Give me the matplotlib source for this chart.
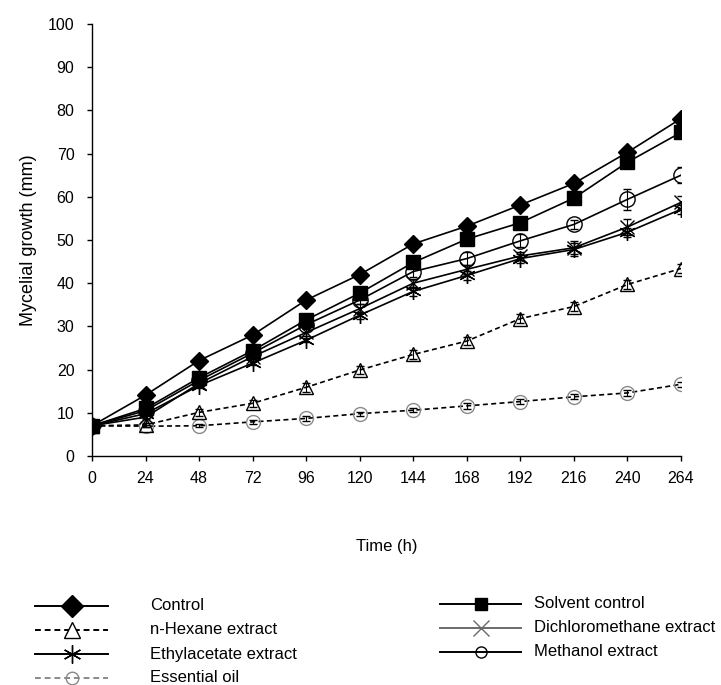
import matplotlib

matplotlib.use("Agg")
import matplotlib.pyplot as plt
from matplotlib.lines import Line2D

plt.rcParams["font.family"] = ["Liberation Sans", "DejaVu Sans"]

# Time points (h)
hours = [0, 24, 48, 72, 96, 120, 144, 168, 192, 216, 240, 264]

# Mean mycelial growth (mm)
control = [7, 14.1, 22.1, 28.0, 36.1, 42.0, 49.1, 53.2, 58.1, 63.1, 70.3, 78.1]
solvent = [7, 11.0, 18.1, 24.4, 31.5, 37.7, 44.8, 50.2, 54.0, 59.7, 68.0, 74.9]
hexane = [7, 7.2, 10.1, 12.2, 15.9, 19.9, 23.5, 26.6, 31.8, 34.6, 39.7, 43.4]
dcm = [7, 9.0, 16.8, 23.0, 28.6, 34.1, 40.0, 43.2, 46.3, 48.2, 53.0, 58.7]
ethyl = [7, 9.8, 16.3, 21.5, 26.8, 32.6, 38.1, 41.8, 45.7, 47.8, 51.8, 57.1]
methanol = [7, 10.5, 17.5, 23.8, 30.4, 36.1, 42.7, 45.7, 49.8, 53.6, 59.4, 65.0]
oil = [7, 6.9, 7.0, 7.9, 8.7, 9.8, 10.6, 11.6, 12.6, 13.7, 14.6, 16.6]

# Standard errors (estimated from the bars)
control_err = [0, 0.3, 0.3, 0.3, 0.3, 0.3, 0.4, 0.4, 0.4, 0.4, 0.5, 0.5]
solvent_err = [0, 0.4, 0.4, 0.5, 0.5, 0.5, 0.6, 0.6, 0.6, 0.6, 0.8, 0.8]
hexane_err = [0, 0.5, 0.8, 0.8, 1.0, 1.0, 1.0, 1.0, 1.0, 1.0, 1.0, 1.0]
dcm_err = [0, 0.5, 0.5, 0.5, 0.8, 1.0, 1.0, 1.0, 1.0, 1.5, 1.8, 1.5]
ethyl_err = [0, 0.5, 0.5, 0.5, 0.5, 0.8, 1.0, 1.0, 1.0, 1.5, 1.0, 1.0]
methanol_err = [0, 0.5, 0.5, 0.5, 0.8, 1.0, 1.2, 1.5, 1.5, 1.0, 2.5, 1.8]
oil_err = [0, 0.3, 0.3, 0.5, 0.5, 0.5, 0.5, 0.7, 0.6, 0.6, 0.6, 0.6]

y_ticks = list(range(0, 101, 10))

DASH = (0, (3, 2))
GREY = "#8a8a8a"

# name, values, errors, line style kwargs (main plot), legend colour
SERIES = [
    ("Essential oil", oil, oil_err,
     dict(ls=DASH, color="black", marker="o", ms=10, mfc="none", mec=GREY, mew=1.0), GREY),
    ("n-Hexane extract", hexane, hexane_err,
     dict(ls=DASH, color="black", marker="^", ms=10, mfc="none", mec="black", mew=1.0), "black"),
    ("Ethylacetate extract", ethyl, ethyl_err,
     dict(ls="-", color="black", marker=(6, 2, 0), ms=12, mec="black", mew=1.0), "black"),
    ("Dichloromethane extract", dcm, dcm_err,
     dict(ls="-", color="black", marker="x", ms=10, mec="black", mew=1.0), "#6a6a6a"),
    ("Methanol extract", methanol, methanol_err,
     dict(ls="-", color="black", marker="o", ms=11, mfc="none", mec="black", mew=1.0), "black"),
    ("Solvent control", solvent, solvent_err,
     dict(ls="-", color="black", marker="s", ms=10, mfc="black", mec="black"), "black"),
    ("Control", control, control_err,
     dict(ls="-", color="black", marker="D", ms=9, mfc="black", mec="black"), "black"),
]

fig = plt.figure(figsize=(7.21, 6.85), dpi=100)
ax = fig.add_axes((0.1276, 0.3343, 0.8169, 0.6307))

for name, vals, err, style, _ in SERIES:
    ax.errorbar(hours, vals, yerr=err, lw=1.2, elinewidth=0.8, capsize=3,
                ecolor="black", **style)

ax.set_xlim(0, 264)
ax.set_ylim(0, 100)
ax.set_xticks(hours)
ax.set_yticks(y_ticks)
ax.tick_params(direction="out", length=3.6, width=1, labelsize=11.5)
ax.tick_params(axis="y", pad=9)
ax.tick_params(axis="x", pad=7)
ax.spines["top"].set_visible(False)
ax.spines["right"].set_visible(False)
for s in ("left", "bottom"):
    ax.spines[s].set_linewidth(1.0)
for lab in ax.get_xticklabels() + ax.get_yticklabels():
    lab.set_clip_on(False)
ax.set_xlabel("Time (h)", fontsize=12, labelpad=38)
ax.set_ylabel("Mycelial growth (mm)", fontsize=13, labelpad=8)

# Legend, laid out by hand in pixel coordinates below the axes
leg = fig.add_axes((0, 0, 1, 1), facecolor="none")
leg.set_xlim(0, 721)
leg.set_ylim(685, 0)
leg.axis("off")

by_name = {s[0]: s for s in SERIES}
left_col = ["Control", "n-Hexane extract", "Ethylacetate extract", "Essential oil"]
left_rows = [606, 630, 654, 678]
right_col = ["Solvent control", "Dichloromethane extract", "Methanol extract"]
right_rows = [604, 628, 652]

legend_ms = {"Control": 11, "Solvent control": 9, "n-Hexane extract": 11,
             "Dichloromethane extract": 12, "Ethylacetate extract": 13,
             "Methanol extract": 8, "Essential oil": 9}


def legend_entry(name, y, x0, x1, xt):
    _, _, _, style, col = by_name[name]
    st = dict(style)
    st["color"] = col
    st["ms"] = legend_ms[name]
    if name in ("Essential oil", "Dichloromethane extract"):
        st["mec"] = col
    if name == "n-Hexane extract":
        st["mfc"] = "white"
    xm = (x0 + x1) / 2
    leg.add_line(Line2D([x0, xm, x1], [y, y, y], lw=1.4, markevery=[1], **st))
    leg.text(xt, y, name, fontsize=12, va="center", ha="left")


for name, y in zip(left_col, left_rows):
    legend_entry(name, y, 35, 108, 150)
for name, y in zip(right_col, right_rows):
    legend_entry(name, y, 440, 521, 534)

fig.savefig("out.png", dpi=100)
